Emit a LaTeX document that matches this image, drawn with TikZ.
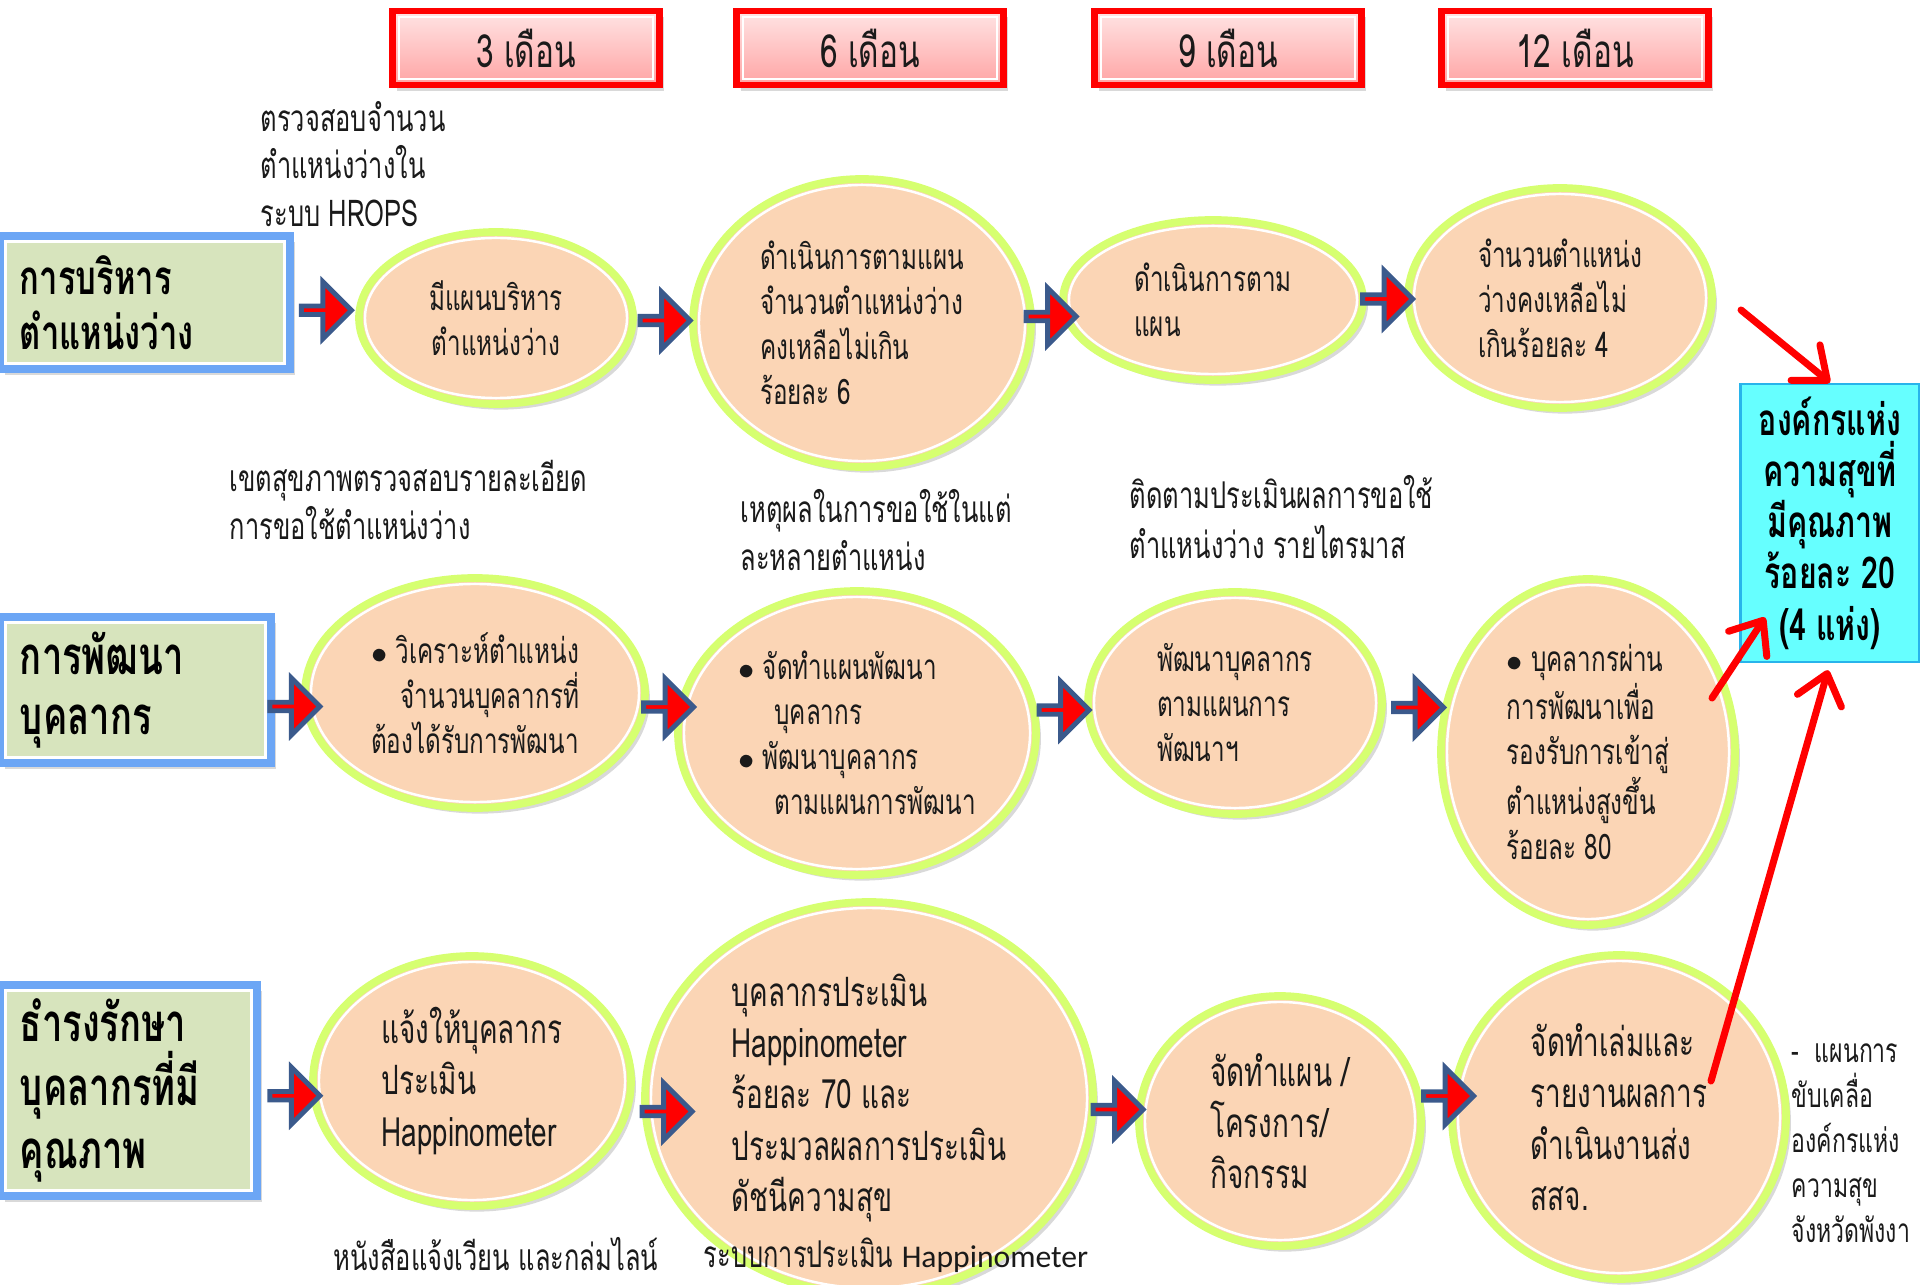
\documentclass[tikz,border=0pt]{standalone}
\usepackage{fontspec}
\usepackage{tikz}
\usetikzlibrary{positioning}
\usetikzlibrary{calc}
\usetikzlibrary{shapes}
\usetikzlibrary{shadows}
\usetikzlibrary{arrows.meta}
\newfontfamily\thai[Script=Thai,FakeStretch=0.69]{Loma}
\newfontfamily\calib{Carlito}
\definecolor{ink}{RGB}{26,26,26}
\definecolor{peach}{RGB}{251,213,181}
\definecolor{limeedge}{RGB}{214,255,112}
\definecolor{headfill}{RGB}{215,228,189}
\definecolor{headedge}{RGB}{108,166,245}
\definecolor{monthtop}{RGB}{255,228,228}
\definecolor{monthbottom}{RGB}{255,164,164}
\definecolor{goalfill}{RGB}{102,255,255}
\definecolor{goaledge}{RGB}{40,180,235}
\definecolor{flowedge}{RGB}{59,90,140}
\tikzset{>={Straight Barb[length=8pt,width=13pt,round]}}
\tikzset{softshadow/.style={drop shadow={opacity=0.3,shadow xshift=1.4pt,shadow yshift=-1.6pt}}}
\tikzset{monthbox/.style={rectangle, draw=red, line width=1.8pt, top color=monthtop, bottom color=monthbottom, minimum width=2.67cm, minimum height=0.74cm, text=ink, font=\thai\fontsize{13}{15}\selectfont, softshadow, path picture={\draw [white, line width=0.6pt] ([shift={(1.8pt,1.8pt)}]path picture bounding box.south west) rectangle ([shift={(-1.8pt,-1.8pt)}]path picture bounding box.north east);}}}
\tikzset{rowhead/.style={rectangle, draw=headedge, line width=2pt, fill=headfill, align=left, inner xsep=0.2cm, text=black, softshadow, path picture={\draw [white, line width=0.7pt] ([shift={(1.6pt,1.6pt)}]path picture bounding box.south west) rectangle ([shift={(-1.6pt,-1.6pt)}]path picture bounding box.north east);}}}
\tikzset{stepoval/.style={ellipse, draw=limeedge, line width=2.2pt, fill=peach, inner sep=0pt, align=left, text=ink, font=\thai\fontsize{10}{12.8}\selectfont, softshadow, path picture={\draw [white, line width=0.7pt] let \p1=(path picture bounding box.north east), \p2=(path picture bounding box.center) in (\p2) ellipse ({\x1-\x2-1.7pt} and {\y1-\y2-1.7pt});}}}
\tikzset{bigstep/.style={stepoval, font=\thai\fontsize{11.5}{14.6}\selectfont}}
\tikzset{flow/.style={single arrow, draw=flowedge, fill=red, line width=1.4pt, inner sep=0pt, minimum height=0.5cm, minimum width=0.57cm, single arrow head extend=0.14cm, single arrow head indent=0pt}}
\tikzset{goalbox/.style={rectangle, draw=goaledge, line width=0.8pt, fill=goalfill, align=center, minimum width=1.79cm, minimum height=2.78cm, font=\thai\bfseries\fontsize{12.5}{14.6}\selectfont}}
\tikzset{note/.style={align=left, anchor=west, inner sep=0pt, text=ink, font=\thai\fontsize{10.5}{13.6}\selectfont}}
\tikzset{goalline/.style={->, draw=red, line width=2pt, line cap=round}}
\newcommand{\dotitem}{{\small$\bullet$}\ }

\begin{document}
\begin{tikzpicture}

    \useasboundingbox (0,0) rectangle (19.2,-12.85);

    % Month headers
    \node [monthbox] (month3) at (5.26,-0.48) {3 เดือน};
    \node [monthbox] (month6) at ($(month3) + (3.44, 0)$) {6 เดือน};
    \node [monthbox] (month9) at ($(month6) + (3.58, 0)$) {9 เดือน};
    \node [monthbox] (month12) at ($(month9) + (3.47, 0)$) {12 เดือน};

    % Row headers
    \node [rowhead, text width=2.5cm, minimum height=1.33cm, font=\thai\bfseries\fontsize{13.5}{15.7}\selectfont] (head1) at (1.45,-3.025) {การบริหาร\\ตำแหน่งว่าง};
    \node [rowhead, text width=2.31cm, minimum height=1.46cm, font=\thai\bfseries\fontsize{15}{17}\selectfont] (head2) at (1.355,-6.90) {การพัฒนา\\บุคลากร};
    \node [rowhead, text width=2.17cm, minimum height=2.11cm, font=\thai\bfseries\fontsize{15}{18}\selectfont] (head3) at (1.285,-10.905) {ธำรงรักษา\\บุคลากรที่มี\\คุณภาพ};

    % Steps, row 1
    \node [stepoval, minimum width=2.74cm, minimum height=1.72cm, align=center] (mgmt1) at (4.96,-3.18) {มีแผนบริหาร\\ตำแหน่งว่าง};
    \node [stepoval, minimum width=3.38cm, minimum height=2.88cm] (mgmt2) at ($(mgmt1) + (3.66, -0.05)$) {ดำเนินการตามแผน\\จำนวนตำแหน่งว่าง\\คงเหลือไม่เกิน\\ร้อยละ 6};
    \node [stepoval, minimum width=3.00cm, minimum height=1.60cm] (mgmt3) at ($(mgmt2) + (3.51, 0.23)$) {ดำเนินการตาม\\แผน\hspace{1.0cm}};
    \node [stepoval, minimum width=3.04cm, minimum height=2.20cm] (mgmt4) at ($(mgmt3) + (3.47, 0.02)$) {จำนวนตำแหน่ง\\ว่างคงเหลือไม่\\เกินร้อยละ 4};

    % Steps, row 2
    \node [stepoval, minimum width=3.40cm, minimum height=2.30cm, align=right] (dev1) at (4.75,-6.93) {\dotitem วิเคราะห์ตำแหน่ง\\จำนวนบุคลากรที่\\ต้องได้รับการพัฒนา};
    \node [stepoval, minimum width=3.58cm, minimum height=2.84cm] (dev2) at ($(dev1) + (3.82, -0.40)$) {\dotitem จัดทำแผนพัฒนา\\\hspace*{0.36cm}บุคลากร\\\dotitem พัฒนาบุคลากร\\\hspace*{0.36cm}ตามแผนการพัฒนา};
    \node [stepoval, minimum width=2.94cm, minimum height=2.22cm] (dev3) at ($(dev2) + (3.78, 0.30)$) {พัฒนาบุคลากร\\ตามแผนการ\\พัฒนาฯ};
    \node [stepoval, minimum width=2.94cm, minimum height=3.46cm] (dev4) at ($(dev3) + (3.53, -0.49)$) {\dotitem บุคลากรผ่าน\\การพัฒนาเพื่อ\\รองรับการเข้าสู่\\ตำแหน่งสูงขึ้น\\ร้อยละ 80};

    % Steps, row 3
    \node [bigstep, minimum width=3.18cm, minimum height=2.50cm] (keep1) at (4.72,-10.81) {แจ้งให้บุคลากร\\ประเมิน\\Happinometer};
    \node [bigstep, minimum width=4.48cm, minimum height=3.92cm] (keep2) at ($(keep1) + (3.97, -0.17)$) {บุคลากรประเมิน\\Happinometer\\ร้อยละ 70 และ\\ประมวลผลการประเมิน\\ดัชนีความสุข};
    \node [bigstep, minimum width=2.82cm, minimum height=2.50cm] (keep3) at ($(keep2) + (4.11, -0.23)$) {จัดทำแผน /\\โครงการ/\\กิจกรรม};
    \node [bigstep, minimum width=3.34cm, minimum height=3.24cm] (keep4) at ($(keep3) + (3.39, 0.04)$) {จัดทำเล่มและ\\รายงานผลการ\\ดำเนินงานส่ง\\สสจ.};

    % Goal
    \node [goalbox] (goal) at (18.30,-5.23) {องค์กรแห่ง\\ความสุขที่\\มีคุณภาพ\\ร้อยละ 20\\(4 แห่ง)};

    % Notes
    \node [note] (hrops) at (2.60,-1.64) {ตรวจสอบจำนวน\\ตำแหน่งว่างใน\\ระบบ HROPS};
    \node [note] (zone) at (2.29,-5.00) {เขตสุขภาพตรวจสอบรายละเอียด\\การขอใช้ตำแหน่งว่าง};
    \node [note] (reason) at (7.40,-5.30) {เหตุผลในการขอใช้ในแต่\\ละหลายตำแหน่ง};
    \node [note, font=\thai\fontsize{10.5}{14.2}\selectfont] (follow) at (11.29,-5.17) {ติดตามประเมินผลการขอใช้\\ตำแหน่งว่าง รายไตรมาส};
    \node [note] (letter) at (3.33,-12.54) {หนังสือแจ้งเวียน และกล่มไลน์};
    \node [note] (system) at (7.03,-12.55) {ระบบการประเมิน {\calib\fontsize{9}{11}\selectfont Happinometer}};
    \node [note, font=\thai\fontsize{9.5}{12.8}\selectfont] (drive) at (17.91,-11.43) {-\ \ แผนการ\\ขับเคลื่อ\\องค์กรแห่ง\\ความสุข\\จังหวัดพังงา};

    % Block arrows between nodes
    \node [flow] (flow11) at ($(head1.east)!0.5!(mgmt1.west)$) {};
    \node [flow] (flow12) at ($(mgmt1.east)!0.5!(mgmt2.west)$) {};
    \node [flow] (flow13) at ($(mgmt2.east)!0.5!(mgmt3.west) + (0.02,-0.05)$) {};
    \node [flow] (flow14) at ($(mgmt3.east)!0.5!(mgmt4.west)$) {};
    \node [flow] (flow21) at ($(head2.east)!0.5!(dev1.west) + (0.05,-0.15)$) {};
    \node [flow] (flow22) at ($(dev1.east)!0.5!(dev2.west) + (0.05,0.06)$) {};
    \node [flow] (flow23) at ($(dev2.east)!0.5!(dev3.west) + (0,0.08)$) {};
    \node [flow] (flow24) at ($(dev3.east)!0.5!(dev4.west) + (0.05,0.2)$) {};
    \node [flow] (flow31) at ($(head3.east)!0.5!(keep1.west) + (0.08,-0.1)$) {};
    \node [flow] (flow32) at ($(keep1.east)!0.5!(keep2.west) + (0.27,-0.22)$) {};
    \node [flow] (flow33) at ($(keep2.east)!0.5!(keep3.west)$) {};
    \node [flow] (flow34) at ($(keep3.east)!0.5!(keep4.west) + (0.1,0.23)$) {};

    % Arrows to goal
    \coordinate (from1) at ($(mgmt4.center) + (1.81,-0.12)$);
    \coordinate (from2) at ($(dev4.center) + (1.24,0.54)$);
    \coordinate (from3) at ($(keep4.center) + (0.92,0.36)$);
    \coordinate (into2) at ($(goal.south west) + (0.26,0.46)$);
    \draw [goalline] (from1) -- (goal.north);
    \draw [goalline] (from2) -- (into2);
    \draw [goalline, shorten >=2pt] (from3) -- (goal.south);

\end{tikzpicture}
\end{document}
